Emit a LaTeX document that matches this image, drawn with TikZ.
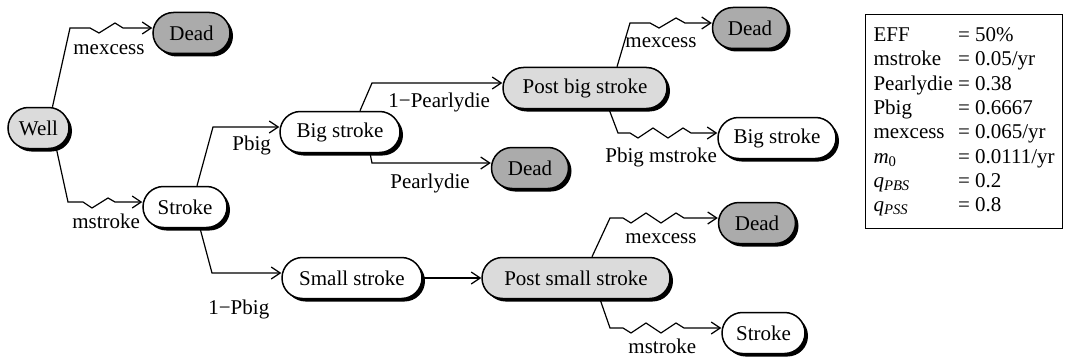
\documentclass[tikz,border=0pt]{standalone}
\usepackage{fontspec}
\setmainfont{Liberation Serif}
\usetikzlibrary{arrows.meta,shadows}
\definecolor{deadgray}{gray}{0.67}
\definecolor{postgray}{gray}{0.86}
\begin{document}
\begin{tikzpicture}[x=0.5pt,y=-0.5pt,
  font=\fontsize{10.5}{12.15}\selectfont,
  state/.style={draw=black, line width=0.75pt, rounded corners=10.25pt,
    minimum height=20.5pt, inner sep=0pt,
    drop shadow={shadow xshift=1.5pt, shadow yshift=-1.5pt, fill=black, opacity=1}},
  dead/.style={state, fill=deadgray, minimum width=38.5pt},
  post/.style={state, fill=postgray},
  live/.style={state, fill=white},
  conn/.style={line width=0.6pt, -{Straight Barb[length=4.5pt,width=6pt]}},
  lbl/.style={anchor=base west, inner sep=0pt},
  entry/.style={}]
\useasboundingbox (0,0) rectangle (1068,358);

% states
\node[post, minimum width=30.5pt] (well) at (38.5,128) {Well};
\node[dead] (dead1) at (191.5,33) {Dead};
\node[live, minimum width=42pt] (stroke1) at (185,207) {Stroke};
\node[live, minimum width=60pt] (big1) at (340,132) {Big stroke};
\node[post, minimum width=82pt] (pbs) at (585,88) {Post big stroke};
\node[dead] (dead2) at (530,168) {Dead};
\node[dead, minimum width=37.5pt] (dead3) at (750,28) {Dead};
\node[live, minimum width=59pt] (big2) at (777,138) {Big stroke};
\node[live, minimum width=70pt] (small) at (352,278) {Small stroke};
\node[post, minimum width=94pt] (pss) at (576,278) {Post small stroke};
\node[dead] (dead4) at (757,223) {Dead};
\node[live, minimum width=41.5pt] (stroke2) at (763.5,333) {Stroke};

% entry points of the arrows
\coordinate (d1in) at ([yshift=2.5pt]dead1.west);
\coordinate (s1in) at ([yshift=2.5pt]stroke1.west);
\coordinate (b1in) at ([yshift=2.5pt]big1.west);
\coordinate (smin) at ([yshift=2.5pt]small.west);
\coordinate (pbsin) at ([yshift=2.5pt]pbs.west);
\coordinate (d2in) at ([yshift=2.5pt]dead2.west);
\coordinate (d3in) at ([yshift=2.5pt]dead3.west);
\coordinate (b2in) at ([yshift=2.5pt]big2.west);
\coordinate (d4in) at ([yshift=2.5pt]dead4.west);
\coordinate (s2in) at ([yshift=2.5pt]stroke2.west);

% connectors
\draw[conn] ([xshift=7pt]well.north) -- (70,0 |- d1in) -- ++(20,0)
  -- ++(9,5) -- ++(16,-10) -- ++(8,5) -- (d1in);
\draw[conn] ([xshift=9pt]well.south) -- (68,0 |- s1in) -- ++(15,0)
  -- ++(9,6) -- ++(16,-10) -- ++(7,4) -- (s1in);
\draw[conn] ([xshift=6pt]stroke1.north) -- (213,0 |- b1in) -- (b1in);
\draw[conn] ([xshift=7.5pt]stroke1.south) -- (212,0 |- smin) -- (smin);
\draw[conn] ([xshift=10pt]big1.north) -- (372,0 |- pbsin) -- (pbsin);
\draw[conn] ([xshift=15pt]big1.south) -- (372,0 |- d2in) -- (d2in);
\draw[conn] (small.east) -- (small.east -| pss.west);
\draw[conn] ([xshift=16pt]pbs.north) -- (630,0 |- d3in) -- ++(20,0)
  -- ++(9,5) -- ++(17,-10) -- ++(9,5) -- (d3in);
\draw[conn] ([xshift=12pt]pbs.south) -- (618,0 |- b2in) -- ++(12,0)
  -- ++(8,5) -- ++(15,-10) -- ++(15,10) -- ++(15,-10) -- ++(8,5) -- (b2in);
\draw[conn] ([xshift=8pt]pss.north) -- (610,0 |- d4in) -- ++(13,0)
  -- ++(8,5) -- ++(15,-10) -- ++(15,10) -- ++(15,-10) -- ++(8,5) -- (d4in);
\draw[conn] ([xshift=12pt]pss.south) -- (610,0 |- s2in) -- ++(13,0)
  -- ++(8,5) -- ++(15,-10) -- ++(15,10) -- ++(15,-10) -- ++(8,5) -- (s2in);

% labels
\node[lbl] (l1) at (73,55) {mexcess};
\node[lbl] (l2) at (72,228) {mstroke};
\node[lbl] (l3) at (232,150) {Pbig};
\node[lbl] (l4) at (208,314) {1−Pbig};
\node[lbl] (l5) at (388,107) {1−Pearlydie};
\node[lbl] (l6) at (390,188) {Pearlydie};
\node[lbl] (l7) at (625,47) {mexcess};
\node[lbl] (l8) at (605,162) {Pbig mstroke};
\node[lbl] (l9) at (625,243) {mexcess};
\node[lbl] (l10) at (628,353) {mstroke};

% parameter box
\node[draw, line width=0.5pt, inner xsep=4pt, inner ysep=5pt, anchor=north west] (params) at (865,14) {%
\begin{tabular}{@{}l@{\ }l@{}}
EFF & = 50\% \\
mstroke & = 0.05/yr \\
Pearlydie & = 0.38 \\
Pbig & = 0.6667 \\
mexcess & = 0.065/yr \\
\textit{m}\textsubscript{0} & = 0.0111/yr \\
\textit{q}\textsubscript{\textit{PBS}} & = 0.2 \\
\textit{q}\textsubscript{\textit{PSS}} & = 0.8
\end{tabular}};
\end{tikzpicture}
\end{document}
